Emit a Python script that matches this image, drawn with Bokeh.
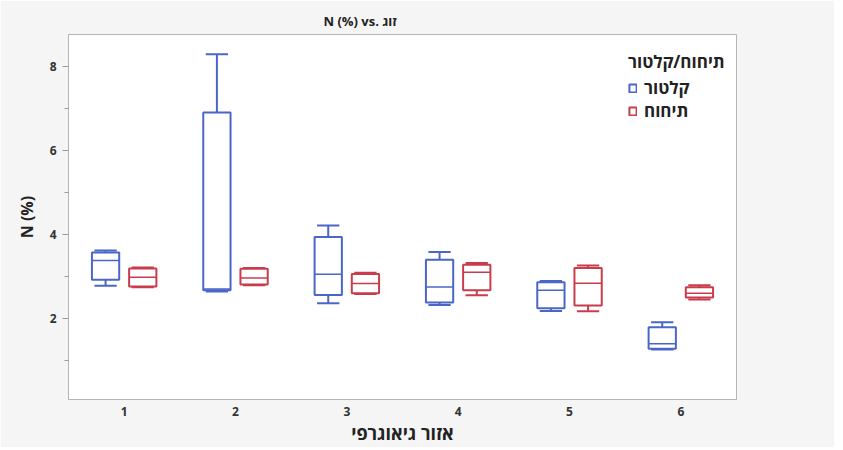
from bokeh.plotting import figure
from bokeh.models import ColumnDataSource, FactorRange, Legend, LegendItem, FixedTicker
from bokeh.transform import dodge
from bokeh.embed import file_html
from bokeh.resources import INLINE

regions = ["1", "2", "3", "4", "5", "6"]

# קלטור (blue)
k_min = [2.78, 2.64, 2.36, 2.32, 2.18, 1.26]
k_q1 = [2.92, 2.67, 2.56, 2.38, 2.24, 1.28]
k_med = [3.38, 2.70, 3.05, 2.75, 2.67, 1.40]
k_q3 = [3.57, 6.90, 3.94, 3.40, 2.86, 1.79]
k_max = [3.62, 8.29, 4.21, 3.58, 2.89, 1.91]

# תיחוח (red)
t_min = [2.74, 2.79, 2.58, 2.55, 2.17, 2.45]
t_q1 = [2.76, 2.81, 2.60, 2.67, 2.31, 2.50]
t_med = [2.98, 2.96, 2.83, 3.10, 2.84, 2.60]
t_q3 = [3.19, 3.18, 3.06, 3.28, 3.20, 2.74]
t_max = [3.21, 3.20, 3.09, 3.32, 3.26, 2.79]

BLUE = "#4a66c8"
RED = "#c83c4c"
FONT = "Open Sans"

p = figure(x_range=FactorRange(*regions, range_padding=0), y_range=(0.07, 8.76),
           frame_width=668, frame_height=365,
           min_border_left=68, min_border_right=98, min_border_top=34, min_border_bottom=43,
           output_backend="svg", toolbar_location=None,
           title="\u202aN (%) vs. זוג\u202c")
p.border_fill_color = "#f5f5f5"
p.background_fill_color = "white"
p.outline_line_color = "#b5b5b5"
p.xgrid.visible = False
p.ygrid.visible = False

p.title.text_font = FONT
p.title.text_font_size = "13px"
p.title.text_font_style = "bold"
p.title.text_color = "#222222"
p.title.align = "left"
p.title.offset = 255

def style_axis(ax):
    ax.axis_line_color = "#b5b5b5"
    ax.major_tick_line_color = "#999999"
    ax.minor_tick_line_color = "#999999"
    ax.major_tick_out = 6
    ax.major_tick_in = 0
    ax.minor_tick_out = 4
    ax.minor_tick_in = 0
    ax.major_label_text_font = FONT
    ax.major_label_text_font_style = "bold"
    ax.major_label_text_font_size = "12px"
    ax.major_label_text_color = "#333333"
    ax.axis_label_text_font = FONT
    ax.axis_label_text_font_style = "bold"
    ax.axis_label_text_font_size = "16px"
    ax.axis_label_text_color = "#222222"

style_axis(p.xaxis[0])
style_axis(p.yaxis[0])
p.yaxis[0].ticker = FixedTicker(ticks=[2, 4, 6, 8], minor_ticks=[1, 3, 5, 7])
p.yaxis[0].axis_label = "N (%)"
p.xaxis[0].axis_label = "אזור גיאוגרפי"
p.xaxis[0].axis_label_text_font_size = "18px"
p.xaxis[0].major_tick_out = 4
p.xaxis[0].major_tick_line_color = None
p.xaxis[0].major_label_standoff = 3
p.xaxis[0].axis_label_standoff = 2
p.yaxis[0].major_label_standoff = 6
p.yaxis[0].axis_label_standoff = 9

W = 0.245
CAP = 0.2

def draw(mins, q1, med, q3, maxs, off, color):
    src = ColumnDataSource(dict(region=regions, mn=mins, q1=q1, med=med, q3=q3, mx=maxs))
    xc = dodge("region", off, range=p.x_range)
    xl = dodge("region", off - W / 2, range=p.x_range)
    xr = dodge("region", off + W / 2, range=p.x_range)
    cl = dodge("region", off - CAP / 2, range=p.x_range)
    cr = dodge("region", off + CAP / 2, range=p.x_range)
    box = p.vbar(x=xc, top="q3", bottom="q1", width=W, source=src,
                 fill_color="white", fill_alpha=0, line_color=color, line_width=2)
    p.segment(x0=xl, x1=xr, y0="med", y1="med", source=src, line_color=color, line_width=1.5)
    wh = p.segment(x0=xc, x1=xc, y0="q3", y1="mx", source=src, line_color=color, line_width=2)
    p.segment(x0=xc, x1=xc, y0="q1", y1="mn", source=src, line_color=color, line_width=2)
    p.segment(x0=cl, x1=cr, y0="mx", y1="mx", source=src, line_color=color, line_width=2)
    p.segment(x0=cl, x1=cr, y0="mn", y1="mn", source=src, line_color=color, line_width=2)
    return box, wh

kb, kw = draw(k_min, k_q1, k_med, k_q3, k_max, -0.167, BLUE)
tb, tw = draw(t_min, t_q1, t_med, t_q3, t_max, 0.167, RED)

legend = Legend(items=[LegendItem(label="קלטור", renderers=[kb]),
                       LegendItem(label="תיחוח", renderers=[tb])],
                location=(560, 277), title="תיחוח/קלטור")
legend.title_text_font = FONT
legend.title_text_font_style = "bold"
legend.title_text_font_size = "17px"
legend.title_text_color = "#222222"
legend.title_standoff = 3
legend.label_text_font = FONT
legend.label_text_font_style = "bold"
legend.label_text_font_size = "17px"
legend.label_text_color = "#222222"
legend.glyph_width = 9
legend.glyph_height = 10
legend.label_standoff = 7
legend.spacing = 0
legend.padding = 4
legend.margin = 0
legend.border_line_color = None
legend.background_fill_alpha = 0
legend.label_height = 20
p.add_layout(legend)

open("out.html", "w").write(file_html(p, INLINE))
